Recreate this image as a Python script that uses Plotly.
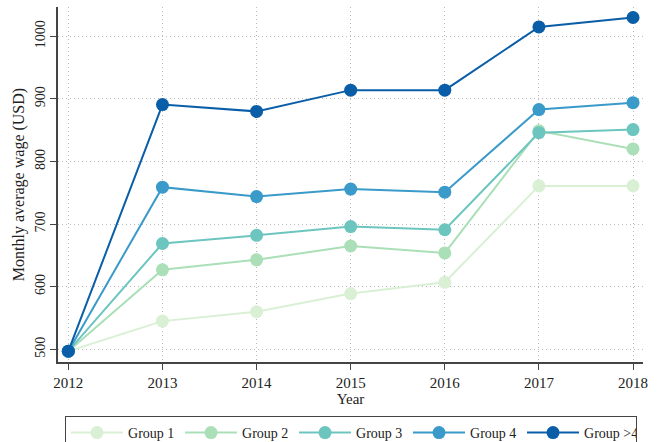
import plotly.graph_objects as go

years = [2012, 2013, 2014, 2015, 2016, 2017, 2018]
group1 = [497, 545, 560, 589, 607, 761, 761]
group2 = [497, 627, 643, 665, 654, 849, 820]
group3 = [497, 669, 682, 696, 691, 846, 851]
group4 = [497, 759, 744, 756, 751, 883, 894]
group5 = [497, 891, 880, 914, 914, 1015, 1030]

names = ["Group 1", "Group 2", "Group 3", "Group 4", "Group >4"]
colors = ["#d9f0d5", "#aadfb7", "#6cc5bf", "#3a9ac9", "#0a5ea8"]
series = [group1, group2, group3, group4, group5]

font_family = "Liberation Serif, DejaVu Serif, serif"

fig = go.Figure()
for name, col, vals in zip(names, colors, series):
    fig.add_trace(go.Scatter(
        x=years, y=vals, name=name, mode="lines+markers",
        line=dict(color=col, width=2),
        marker=dict(color=col, size=13),
    ))

fig.update_layout(
    width=660, height=442,
    margin=dict(l=58, r=17, t=7, b=80, autoexpand=False),
    paper_bgcolor="white", plot_bgcolor="white",
    font=dict(family=font_family, size=15, color="#222"),
    showlegend=True,
    legend=dict(
        orientation="h", x=0.012, xanchor="left", y=-0.152, yanchor="top",
        bordercolor="#444", borderwidth=1, font=dict(size=14, family=font_family),
        entrywidth=47, itemwidth=52, traceorder="normal",
    ),
    xaxis=dict(
        range=[2011.89, 2018.106], tickvals=years, ticktext=[str(y) for y in years],
        showline=True, linecolor="#444", linewidth=1.5, ticks="outside", ticklen=6,
        tickcolor="#444", showgrid=True, gridcolor="#bbbbbb", griddash="1px,3px", gridwidth=1,
        zeroline=False, mirror=False, automargin=False,
        title=dict(text="Year", font=dict(size=15), standoff=4),
        tickfont=dict(size=15),
    ),
    yaxis=dict(
        range=[479.7, 1046.8], tickvals=[500, 600, 700, 800, 900, 1000],
        showline=True, linecolor="#444", linewidth=1.5, ticks="outside", ticklen=6,
        tickcolor="#444", showgrid=True, gridcolor="#bbbbbb", griddash="1px,3px", gridwidth=1,
        zeroline=False, tickangle=-90, automargin=False,
        title=dict(text="Monthly average wage (USD)", font=dict(size=16), standoff=4),
        tickfont=dict(size=14),
    ),
)

fig.write_html("out.html", config={"displayModeBar": False},
               post_script="document.body.style.margin='0';")
